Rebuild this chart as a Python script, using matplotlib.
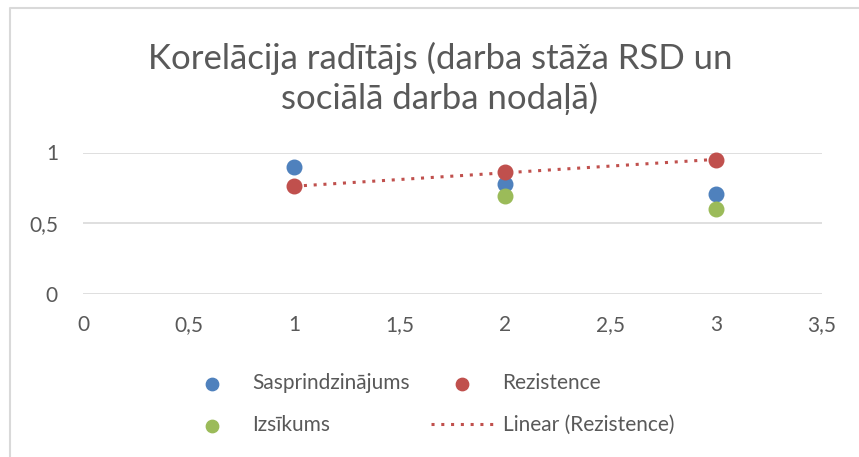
import numpy as np
import matplotlib.pyplot as plt
from matplotlib.ticker import FuncFormatter
from matplotlib.lines import Line2D

plt.rcParams['font.family'] = ['Lato', 'DejaVu Sans']

x_vals = [1, 2, 3]
saspr = [0.90, 0.78, 0.71]
rezist = [0.76, 0.86, 0.95]
izsik_x = [2, 3]
izsik = [0.69, 0.60]

title = "Korelācija radītājs (darba stāža RSD un\nsociālā darba nodaļā)"
txt_col = '#595959'
grid_col = '#d9d9d9'

fig = plt.figure(figsize=(8.59, 4.57), dpi=100)
ax = fig.add_axes([83/859, 1-294/457, (822-83)/859, (294-152.5)/457])

ms = 110
ax.scatter(x_vals, saspr, s=ms, color='#4F81BD', label='Sasprindzinājums', zorder=3, clip_on=False)
ax.scatter(x_vals, rezist, s=ms, color='#C0504D', label='Rezistence', zorder=4, clip_on=False)
ax.scatter(izsik_x, izsik, s=ms, color='#9BBB59', label='Izsīkums', zorder=3, clip_on=False)

# linear trendline for Rezistence
k, b = np.polyfit(x_vals, rezist, 1)
xt = np.array([x_vals[0], x_vals[-1]])
ax.plot(xt, k*xt + b, color='#C0504D', ls=(0, (1, 2.2)), lw=2.2, label='Linear (Rezistence)', zorder=2)

ax.set_xlim(0, 3.5)
ax.set_ylim(0, 1)
ax.set_xticks(np.arange(0, 3.51, 0.5))
ax.set_yticks([0, 0.5, 1])
fmt = FuncFormatter(lambda v, p: '{:g}'.format(v).replace('.', ','))
ax.xaxis.set_major_formatter(fmt)
ax.yaxis.set_major_formatter(fmt)
ax.tick_params(length=0, labelsize=15, labelcolor=txt_col)
ax.tick_params(axis='x', pad=15)
ax.tick_params(axis='y', pad=18)
for s in ax.spines.values():
    s.set_visible(False)
ax.grid(axis='y', color=grid_col, lw=1.2)
ax.set_axisbelow(True)

fig.text(440/859, 1-78/457, title, ha='center', va='center', multialignment='center',
         fontsize=25, color=txt_col, linespacing=1.25)

h, l = ax.get_legend_handles_labels()
order = [0, 2, 1, 3]
leg = fig.legend([h[i] for i in order], [l[i] for i in order], ncol=2,
                 loc='upper left', bbox_to_anchor=(170/859, 1-363/457), frameon=False,
                 fontsize=15, labelcolor=txt_col, handlelength=3.0, handletextpad=0.45,
                 columnspacing=1.0, labelspacing=1.05, borderpad=0, markerscale=0.85)

# chart area border
fig.add_artist(Line2D([10/859, 10/859, 1], [0, 1-8/457, 1-8/457], color=grid_col, lw=1.5))

fig.savefig('out.png', dpi=100)
